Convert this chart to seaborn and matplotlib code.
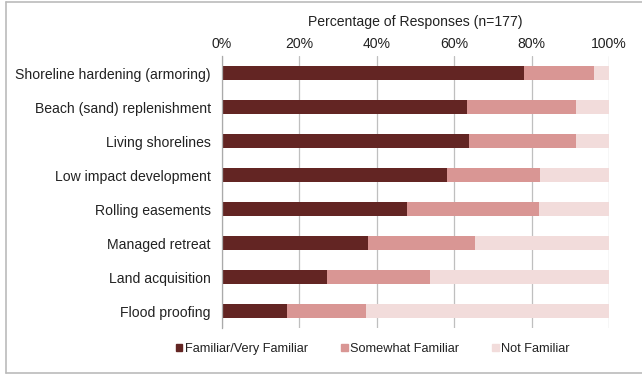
import matplotlib
matplotlib.use("Agg")
import matplotlib.pyplot as plt
import matplotlib.patches as mpatches
import seaborn as sns
import pandas as pd
import numpy as np

categories = [
    "Shoreline hardening (armoring)",
    "Beach (sand) replenishment",
    "Living shorelines",
    "Low impact development",
    "Rolling easements",
    "Managed retreat",
    "Land acquisition",
    "Flood proofing",
]
familiar = [78.0, 63.3, 63.8, 58.2, 47.8, 37.6, 27.2, 16.9]
somewhat = [18.1, 28.2, 27.7, 24.0, 34.0, 27.8, 26.6, 20.3]
not_familiar = [3.9, 8.5, 8.5, 17.8, 18.2, 34.6, 46.2, 62.8]
series_names = ["Familiar/Very Familiar", "Somewhat Familiar", "Not Familiar"]
series_colors = ["#632523", "#D99694", "#F2DCDB"]
x_ticks = [0, 20, 40, 60, 80, 100]
x_title = "Percentage of Responses (n=177)"

sns.set_theme(style="white")
plt.rcParams["font.family"] = ["Liberation Sans", "DejaVu Sans"]

df = pd.DataFrame({
    "category": categories,
    "familiar": familiar,
    "somewhat": somewhat,
    "not_familiar": not_familiar,
})
df["cum_somewhat"] = df["familiar"] + df["somewhat"]
df["cum_total"] = df["cum_somewhat"] + df["not_familiar"]

W, H = 642, 375
fig = plt.figure(figsize=(W / 100, H / 100), dpi=100)
ax = fig.add_axes([222 / W, 1 - 328 / H, (609 - 222) / W, (328 - 56) / H])

# stacked horizontal bars: draw cumulative totals back to front
for col, color in zip(["cum_total", "cum_somewhat", "familiar"], series_colors[::-1]):
    sns.barplot(data=df, x=col, y="category", color=color, width=0.44,
                saturation=1, ax=ax, orient="h", edgecolor="none")

text_color = "#222222"
ax.set_xlim(0, 100)
ax.set_ylim(len(categories) - 0.5, -0.5)
ax.xaxis.tick_top()
ax.xaxis.set_label_position("top")
ax.set_xticks(x_ticks)
ax.set_xticklabels([f"{t}%" for t in x_ticks], fontsize=10.1, color=text_color)
ax.set_xlabel(x_title, fontsize=10.1, color=text_color, labelpad=8)
ax.set_ylabel("")
ax.tick_params(axis="x", length=0, pad=3.5)
ax.grid(axis="x", color="#BFBFBF", linewidth=0.9)
ax.set_axisbelow(True)
for s in ["top", "right", "bottom"]:
    ax.spines[s].set_visible(False)
ax.spines["left"].set_color("#AAAAAA")
ax.spines["left"].set_linewidth(0.9)

# tick marks between categories on the left spine
ax.set_yticks(np.arange(len(categories)))
ax.set_yticklabels(categories, fontsize=10.1, color=text_color)
ax.tick_params(axis="y", length=0, pad=8)
ax.set_yticks(np.arange(len(categories) + 1) - 0.5, minor=True)
ax.tick_params(axis="y", which="minor", length=3, color="#AAAAAA", width=0.9)

handles = [mpatches.Patch(color=c, label=n) for c, n in zip(series_colors, series_names)]
fig.legend(handles=handles, loc="center left", bbox_to_anchor=(176 / W, 1 - 349 / H),
           ncol=3, frameon=False, fontsize=9.2, handlelength=0.5, handleheight=0.5,
           handletextpad=0.2, columnspacing=2.6, borderpad=0, borderaxespad=0,
           labelcolor=text_color)

# outer frame
frame_kw = dict(transform=fig.transFigure, color="#BBBBBB", linewidth=1.2)
fig.add_artist(plt.Line2D([6 / W, 6 / W], [1 - 373 / H, 1 - 1.5 / H], **frame_kw))
fig.add_artist(plt.Line2D([6 / W, 1], [1 - 1.5 / H, 1 - 1.5 / H], **frame_kw))
fig.add_artist(plt.Line2D([6 / W, 1], [1 - 373 / H, 1 - 373 / H], **frame_kw))

fig.savefig("out.png", dpi=100)
